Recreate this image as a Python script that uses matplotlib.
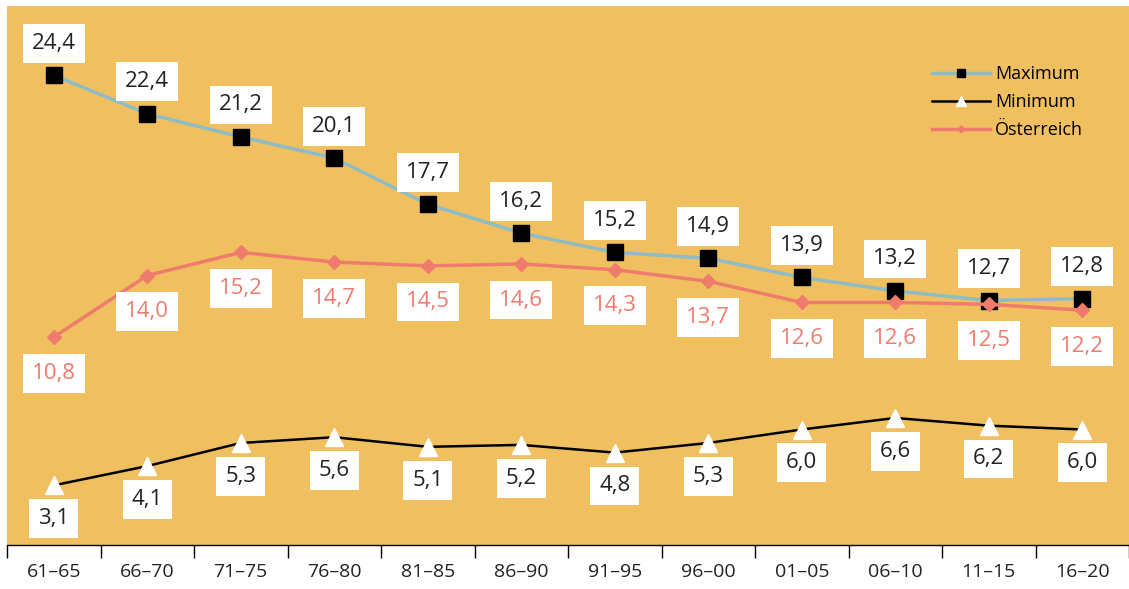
import matplotlib.pyplot as plt
import numpy as np

periods = ['61–65', '66–70', '71–75', '76–80', '81–85', '86–90',
           '91–95', '96–00', '01–05', '06–10', '11–15', '16–20']
maximum = [24.4, 22.4, 21.2, 20.1, 17.7, 16.2, 15.2, 14.9, 13.9, 13.2, 12.7, 12.8]
minimum = [3.1, 4.1, 5.3, 5.6, 5.1, 5.2, 4.8, 5.3, 6.0, 6.6, 6.2, 6.0]
oesterreich = [10.8, 14.0, 15.2, 14.7, 14.5, 14.6, 14.3, 13.7, 12.6, 12.6, 12.5, 12.2]

plt.rcParams['font.family'] = ['Open Sans', 'DejaVu Sans']

bg = '#F0C060'
c_max = '#8DBCC6'
c_aut = '#EE7B6C'

fig = plt.figure(figsize=(11.29, 5.89), dpi=100)
ax = fig.add_axes([7 / 1129, 44 / 589, 1 - 7 / 1129, (545 - 6) / 589])
ax.set_facecolor(bg)

x = np.arange(len(periods))
ax.plot(x, maximum, color=c_max, lw=2.5, marker='s', ms=12,
        mfc='black', mec='black', label='Maximum', zorder=3)
ax.plot(x, minimum, color='black', lw=1.8, marker='^', ms=13,
        mfc='white', mec='white', label='Minimum', zorder=3)
ax.plot(x, oesterreich, color=c_aut, lw=2.5, marker='D', ms=7,
        mfc=c_aut, mec=c_aut, label='Österreich', zorder=3)

box = dict(boxstyle='square,pad=0.4', fc='white', ec='none')
for i in range(len(x)):
    ax.annotate(f'{maximum[i]:.1f}'.replace('.', ','), (x[i], maximum[i]),
                xytext=(0, 23), textcoords='offset points', ha='center', va='center',
                fontsize=16, color='#222222', bbox=box, zorder=4)
    ax.annotate(f'{minimum[i]:.1f}'.replace('.', ','), (x[i], minimum[i]),
                xytext=(0, -24), textcoords='offset points', ha='center', va='center',
                fontsize=16, color='#222222', bbox=box, zorder=4)
    ax.annotate(f'{oesterreich[i]:.1f}'.replace('.', ','), (x[i], oesterreich[i]),
                xytext=(0, -26), textcoords='offset points', ha='center', va='center',
                fontsize=16, color=c_aut, bbox=box, zorder=4)

ax.set_xlim(-0.5, len(x) - 0.5)
ax.set_ylim(0, 28)
ax.set_yticks([])
ax.set_xticks(x)
ax.set_xticklabels(periods, fontsize=14, color='#222222')
ax.tick_params(axis='x', which='major', length=0, pad=13)
ax.set_xticks(np.arange(-0.5, len(x), 1), minor=True)
ax.tick_params(axis='x', which='minor', length=9, width=1, direction='out')
for s in ['top', 'right', 'left']:
    ax.spines[s].set_visible(False)
ax.spines['bottom'].set_linewidth(1)

leg = ax.legend(loc='upper left', bbox_to_anchor=(0.81, 0.92), frameon=False,
                fontsize=13, handlelength=3.2, handletextpad=0.3,
                labelspacing=0.55, markerscale=0.5)

fig.savefig('out.png', dpi=100, facecolor='white')
